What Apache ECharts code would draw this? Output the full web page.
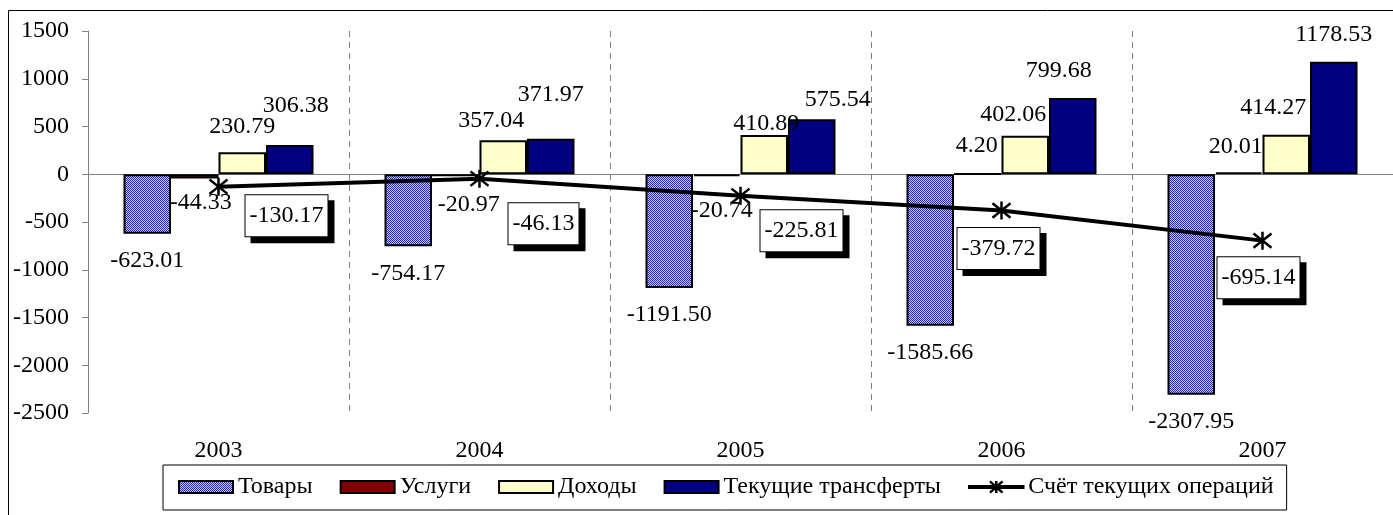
<!DOCTYPE html>
<html><head><meta charset="utf-8">
<script src="https://cdn.jsdelivr.net/npm/echarts@6/dist/echarts.min.js"></script>
<style>html,body{margin:0;padding:0;background:#fff}#c{width:1393px;height:515px}</style>
</head><body><div id="c"></div>
<script>
// ---- data ----
const categories = ['2003', '2004', '2005', '2006', '2007'];
const goods = [-623.01, -754.17, -1191.50, -1585.66, -2307.95];
const services = [-44.33, -20.97, -20.74, 4.20, 20.01];
const income = [230.79, 357.04, 410.89, 402.06, 414.27];
const transfers = [306.38, 371.97, 575.54, 799.68, 1178.53];
const currentAccount = [-130.17, -46.13, -225.81, -379.72, -695.14];
const seriesNames = ['Товары', 'Услуги', 'Доходы', 'Текущие трансферты', 'Счёт текущих операций'];
const yTicks = { min: -2500, max: 1500, interval: 500 };

// ---- label placement tweaks (pixels) ----
const goodsShift = [[0, 0], [0, 0], [0, 0], [0, 0], [0, 0]];
const servicesShift = [[6, -3], [13, 1], [5, 7], [-1, 0], [-3, 1]];
const incomeShift = [[0, 1], [-12, 8], [2, 16], [-12, 6], [-13, 0]];
const transfersShift = [[6, -12], [0, -17], [26, 7], [-14, 0], [0, 0]];
const accountShift = [[68, 29], [64, 45], [61, 35], [-3, 38], [-4, 37]];

const FONT = "'Liberation Serif','Times New Roman',serif";
const FS = 24;

// pattern for goods
const pc = document.createElement('canvas');
pc.width = 2; pc.height = 2;
const g = pc.getContext('2d');
g.fillStyle = '#c0c0ff'; g.fillRect(0, 0, 2, 2);
g.fillStyle = '#2c2cb8'; g.fillRect(0, 0, 1, 1); g.fillRect(1, 1, 1, 1);
const goodsFill = { image: pc, repeat: 'repeat' };

function barItems(vals, shifts) {
  return vals.map((v, i) => ({ value: v,
    label: { offset: shifts[i], position: v < 0 ? 'bottom' : 'top' } }));
}
const fmt = p => Number(p.value).toFixed(2);
const barLabel = { show: true, distance: 15, formatter: fmt,
  color: '#000', fontFamily: FONT, fontSize: FS };

function barSeries(name, vals, shifts, color) {
  return {
    name, type: 'bar', data: barItems(vals, shifts), barWidth: 47.5, barGap: '0%',
    itemStyle: { color, borderColor: '#000', borderWidth: 2 },
    label: barLabel, z: 2
  };
}

const chart = echarts.init(document.getElementById('c'));
chart.setOption({
  animation: false,
  backgroundColor: '#fff',
  grid: { left: 88, top: 31, width: 1306, height: 382, containLabel: false },
  graphic: [{ type: 'rect', shape: { x: 8.5, y: 10.5, width: 1420, height: 540 },
    style: { fill: 'none', stroke: '#000', lineWidth: 1 }, silent: true, z: 0 }],
  legend: {
    left: 163, top: 465, padding: [10, 13, 11, 15],
    borderColor: '#000', borderWidth: 1, itemWidth: 54, itemHeight: 12, itemGap: 27,
    symbolKeepAspect: false,
    textStyle: { color: '#000', fontFamily: FONT, fontSize: 24 },
    data: [
      { name: seriesNames[0], icon: 'rect' }, { name: seriesNames[1], icon: 'rect' },
      { name: seriesNames[2], icon: 'rect' }, { name: seriesNames[3], icon: 'rect' },
      { name: seriesNames[4],
        icon: 'path://M0,6.2L56,6.2L56,7.8L0,7.8Z M21.5,0.5L34.5,13.5M34.5,0.5L21.5,13.5M28,0L28,14',
        itemStyle: { color: '#000', borderColor: '#000', borderWidth: 2.5 } }
    ]
  },
  xAxis: [
    { type: 'category', data: categories, position: 'top',
      axisLine: { onZero: true, lineStyle: { color: '#808080', width: 1 } },
      axisTick: { show: false }, axisLabel: { show: false },
      splitLine: { show: true, lineStyle: { color: '#808080', type: [6, 5], width: 1 } } },
    { type: 'category', data: categories, position: 'bottom',
      axisLine: { show: false, onZero: false }, axisTick: { show: false },
      axisLabel: { margin: 26, color: '#000', fontFamily: FONT, fontSize: FS },
      splitLine: { show: false } }
  ],
  yAxis: {
    type: 'value', min: yTicks.min, max: yTicks.max, interval: yTicks.interval,
    axisLine: { show: true, lineStyle: { color: '#808080', width: 1 } },
    axisTick: { show: true, length: 6, lineStyle: { color: '#808080' } },
    splitLine: { show: false },
    axisLabel: { margin: 19, color: '#000', fontFamily: FONT, fontSize: FS,
      formatter: v => String(v) }
  },
  series: [
    barSeries(seriesNames[0], goods, goodsShift, goodsFill),
    barSeries(seriesNames[1], services, servicesShift, '#800000'),
    barSeries(seriesNames[2], income, incomeShift, '#FFFFCC'),
    barSeries(seriesNames[3], transfers, transfersShift, '#000080'),
    {
      name: seriesNames[4], type: 'line', z: 5,
      data: currentAccount.map((v, i) => ({ value: v, label: { offset: accountShift[i] } })),
      symbol: 'path://M1,1L9,9M9,1L1,9M5,0L5,10', symbolSize: 18,
      itemStyle: { color: '#000', borderColor: '#000', borderWidth: 2.5 },
      lineStyle: { color: '#000', width: 4 },
      label: {
        show: true, position: 'inside', formatter: fmt, color: '#000',
        fontFamily: FONT, fontSize: FS, backgroundColor: '#fff',
        borderColor: '#000', borderWidth: 1, padding: [9, 4, 8, 4],
        shadowColor: '#000', shadowOffsetX: 6, shadowOffsetY: 6, shadowBlur: 0
      }
    }
  ]
});
</script></body></html>
